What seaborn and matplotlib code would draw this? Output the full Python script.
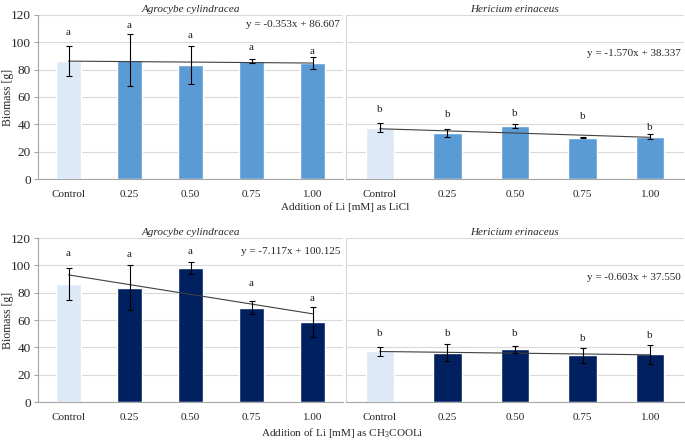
# Biomass of two mushroom species with Li added as LiCl / CH3COOLi
import numpy as np
import pandas as pd
import seaborn as sns
import matplotlib.pyplot as plt

# data
cats = ["Control", "0.25", "0.50", "0.75", "1.00"]
species = ["Agrocybe cylindracea", "Hericium erinaceus"]

agro_licl = [86.3, 87.0, 83.4, 86.6, 85.0]
agro_licl_err = [11.3, 19.2, 13.6, 1.5, 4.2]
heri_licl = [37.6, 33.4, 38.7, 30.2, 30.8]
heri_licl_err = [3.3, 2.9, 1.5, 0.5, 1.8]
agro_ac = [86.5, 83.6, 97.8, 69.0, 58.5]
agro_ac_err = [11.6, 16.3, 4.3, 4.9, 11.2]
heri_ac = [37.0, 36.0, 38.6, 34.3, 34.8]
heri_ac_err = [3.4, 6.3, 2.5, 5.4, 6.7]

# significance letters and their heights
agro_licl_lab = ["a"] * 5
agro_licl_lab_y = [107.5, 112, 105, 96, 93]
heri_licl_lab = ["b"] * 5
heri_licl_lab_y = [51, 47, 48, 45.5, 38]
agro_ac_lab = ["a"] * 5
agro_ac_lab_y = [108.5, 108, 110, 86.5, 76]
heri_ac_lab = ["b"] * 5
heri_ac_lab_y = [50, 50, 50, 46.5, 48.5]

# linear trends (slope, intercept) as printed on the chart
trends = [(-0.353, 86.607), (-1.570, 38.337), (-7.117, 100.125), (-0.603, 37.550)]
eq_y = [112.7, 91.5, 110.2, 91.1]

xlabels = ["Addition of Li [mM] as LiCl", "Addition of Li [mM] as CH$_3$COOLi"]

sns.set_style("white")
plt.rcParams["font.family"] = ["Liberation Serif", "DejaVu Serif"]
plt.rcParams["mathtext.fontset"] = "custom"
plt.rcParams["mathtext.rm"] = "Liberation Serif"

W, H = 685, 440
fig = plt.figure(figsize=(W / 100, H / 100), dpi=100)

def px_axes(x0, y0, x1, y1):
    return fig.add_axes([x0 / W, 1 - y1 / H, (x1 - x0) / W, (y1 - y0) / H])

light = "#dde9f6"
panels = [
    (agro_licl, agro_licl_err, agro_licl_lab, agro_licl_lab_y, "#5b9bd5", (38, 15, 343, 179)),
    (heri_licl, heri_licl_err, heri_licl_lab, heri_licl_lab_y, "#5b9bd5", (346, 15, 684, 179)),
    (agro_ac, agro_ac_err, agro_ac_lab, agro_ac_lab_y, "#002060", (38, 238, 343, 402)),
    (heri_ac, heri_ac_err, heri_ac_lab, heri_ac_lab_y, "#002060", (346, 238, 684, 402)),
]

for k, (vals, errs, labs, lab_y, col, box) in enumerate(panels):
    ax = px_axes(*box)
    df = pd.DataFrame({"dose": cats, "biomass": vals})
    pal = {c: (light if c == "Control" else col) for c in cats}
    sns.barplot(data=df, x="dose", y="biomass", hue="dose", palette=pal,
                legend=False, width=0.42, errorbar=None, saturation=1,
                ax=ax, zorder=2)
    xs = np.arange(len(cats))
    ax.errorbar(xs, vals, yerr=errs, fmt="none", ecolor="black",
                elinewidth=0.8, capsize=2, capthick=0.8, zorder=4)
    slope, icpt = trends[k]
    ax.plot(xs, slope * (xs + 1) + icpt, color="#404040", lw=0.8, zorder=3)
    sign = "-" if slope < 0 else "+"
    ax.text(4.45, eq_y[k], f"y = {sign}{abs(slope):.3f}x + {icpt:.3f}",
            ha="right", va="center", fontsize=8)
    for i, (t, ty) in enumerate(zip(labs, lab_y)):
        ax.text(i, ty, t, ha="center", va="center", fontsize=8, color="#222222")

    ax.set_ylim(0, 120)
    ax.set_xlim(-0.5, 4.5)
    ax.set_yticks(range(0, 121, 20))
    ax.yaxis.grid(True, color="#d9d9d9", lw=0.8, zorder=0)
    ax.set_axisbelow(True)
    ax.set_xlabel("")
    ax.set_ylabel("")
    ax.set_title(species[k % 2], style="italic", fontsize=8, pad=2)
    ax.tick_params(axis="x", length=0, labelsize=8, pad=8)
    ax.set_xticks(np.arange(-0.5, 5, 1), minor=True)
    ax.tick_params(axis="x", which="minor", length=3, color="#a6a6a6", width=0.8)
    for s in ["top", "right"]:
        ax.spines[s].set_visible(False)
    ax.spines["bottom"].set_color("#a6a6a6")
    ax.spines["bottom"].set_linewidth(0.8)
    if k % 2 == 0:
        ax.spines["left"].set_color("#a6a6a6")
        ax.spines["left"].set_linewidth(0.8)
        ax.tick_params(axis="y", length=3, color="#a6a6a6", labelsize=9.5, pad=2, left=True)
        fig.text(8 / W, 1 - (box[1] + box[3]) / 2 / H, "Biomass [g]", rotation=90,
                 ha="center", va="center", fontsize=8.5)
    else:
        ax.spines["left"].set_color("#d9d9d9")
        ax.spines["left"].set_linewidth(0.8)
        ax.tick_params(axis="y", length=0, labelleft=False)

fig.text(345 / W, 1 - 207 / H, xlabels[0], ha="center", va="center", fontsize=8)
fig.text(342 / W, 1 - 433 / H, xlabels[1], ha="center", va="center", fontsize=8)

fig.savefig("out.png", dpi=100)
